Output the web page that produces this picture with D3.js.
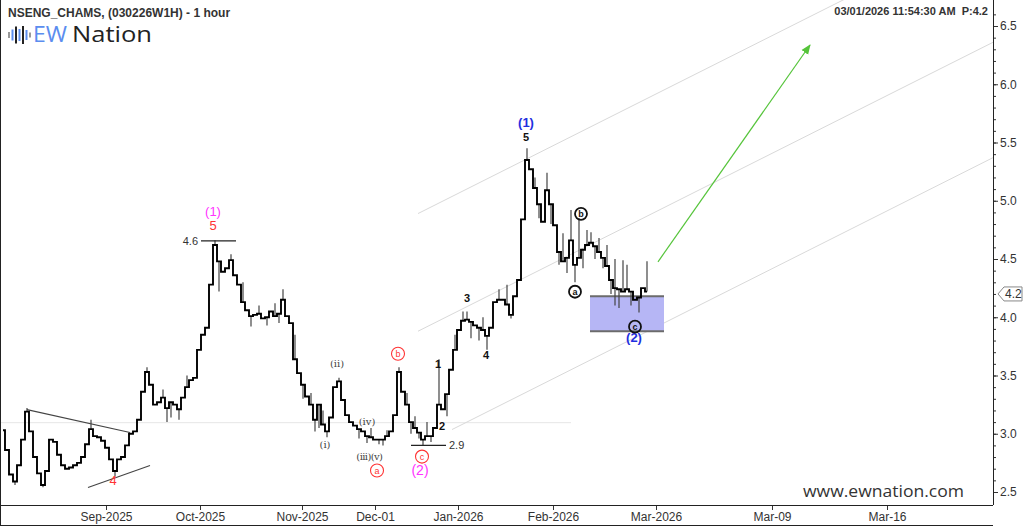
<!DOCTYPE html>
<html><head><meta charset="utf-8">
<script src="https://cdn.jsdelivr.net/npm/d3@7"></script>
<style>body{margin:0;background:#fff}svg{display:block;font-family:"Liberation Sans",Arial,sans-serif}</style>
</head><body><svg id="c" width="1024" height="526"></svg>
<script>
// ---- data (price per sample, hourly chart resampled) ----
const closes = [
3.03,2.86,2.65,2.59,2.73,2.95,3.19,3.02,2.80,2.66,2.56,2.68,2.95,2.93,2.82,2.73,2.70,2.71,2.73,2.75,
2.80,2.91,3.04,2.98,2.97,2.94,2.88,2.78,2.68,2.78,2.80,2.90,3.00,3.02,3.12,3.36,3.53,3.42,3.25,3.27,
3.31,3.22,3.27,3.25,3.21,3.31,3.40,3.46,3.48,3.72,3.85,3.91,4.28,4.62,4.48,4.39,4.42,4.49,4.36,4.28,
4.13,4.06,4.01,4.02,4.03,3.99,4.00,4.05,4.01,4.03,4.15,4.01,3.95,3.64,3.52,3.42,3.32,3.25,3.12,3.25,
3.08,3.02,3.14,3.40,3.45,3.29,3.16,3.10,3.07,3.04,3.02,2.98,2.97,2.95,2.95,2.95,2.98,3.02,3.16,3.53,
3.36,3.25,3.10,3.05,3.01,2.95,2.98,2.98,3.05,3.25,3.21,3.34,3.55,3.72,3.89,3.97,3.98,3.96,3.93,3.91,
3.89,3.84,3.91,4.13,4.15,4.15,4.11,4.02,4.18,4.32,4.84,5.35,5.27,5.11,4.97,4.82,5.09,4.97,4.79,4.56,
4.48,4.51,4.66,4.45,4.51,4.58,4.62,4.64,4.61,4.56,4.51,4.44,4.32,4.25,4.24,4.22,4.24,4.22,4.15,4.17,
4.25,4.22];
const spikeHighs = [[6,3.22],[22,3.12],[36,3.57],[40,3.38],[46,3.50],[53,4.66],[57,4.54],[60,4.30],[64,4.10],
  [68,4.12],[70,4.24],[73,3.85],[77,3.35],[80,3.20],[84,3.48],[92,3.05],[96,3.03],[99,3.57],[101,3.35],[103,3.15],
  [106,3.10],[109,3.64],[113,3.85],[115,4.05],[116,4.05],[120,4.00],[124,4.24],[126,4.28],[131,5.45],[133,5.20],
  [136,5.24],[140,4.72],[142,4.92],[144,4.85],[146,4.75],[147,4.73],[149,4.68],[151,4.62],[153,4.50],[155,4.49],
  [156,4.45],[161,4.48]];
const spikeLows = [[3,2.56],[10,2.54],[28,2.63],[41,3.10],[42,3.14],[44,3.12],[54,4.22],[62,3.92],[66,3.93],
  [69,3.95],[75,3.30],[78,3.02],[79,3.05],[81,2.97],[89,2.96],[91,2.92],[94,2.91],[95,2.90],[102,3.00],[104,2.96],
  [105,2.90],[107,2.93],[111,3.15],[117,3.82],[119,3.80],[121,3.72],[127,3.99],[134,4.85],[137,4.80],[139,4.45],
  [141,4.38],[143,4.30],[145,4.42],[148,4.50],[150,4.42],[152,4.20],[153,4.10],[154,4.08],[157,4.10],[159,4.04]];
const xTickLabels = ["Sep-2025","Oct-2025","Nov-2025","Dec-01","Jan-2026","Feb-2026","Mar-2026","Mar-09","Mar-16"];
const xTickIndex  = [25.75,49.25,74.75,93,113.75,137.5,163.25,192.25,221];
const yTicks = [2.5,3.0,3.5,4.0,4.5,5.0,5.5,6.0,6.5];
const lastPrice = 4.2;
const peakLevel = [49.5,58.25,4.655,"4.6"];
const lowLevel = [102,110.75,2.90,"2.9"];
const channelTop = [[103.75,4.89],[247.5,7.37]];
const channelMid = [[103.75,3.88],[247.5,6.36]];
const channelBot = [[112.25,3.036],[247.5,5.37]];
const trend1 = [[6,3.207],[31.75,3.01]];
const trend2 = [[21.25,2.538],[36.75,2.727]];
const hLine = [[-2,3.095],[142,3.095]];
const arrow = [[163.75,4.476],[201.75,6.337]];
const targetBox = [146.75,165.25,4.18,3.88];
// labels: [index, price, text, kind]
const labels = [
 [52.5,4.91,"(1)","mag"],[52.5,4.79,"5","red"],[27.5,2.60,"4","red"],
 [80.5,2.907,"(i)","rom"],[83.5,3.60,"(ii)","rom"],[91,3.104,"(iv)","rom"],[91.6,2.804,"(iii)(v)","rom"],
 [104.25,2.69,"(2)","mag2"],
 [108.75,3.60,"1","num"],[109.75,3.07,"2","num"],[116,4.167,"3","num"],[120.75,3.679,"4","num"],[130.75,5.548,"5","num"],
 [130.75,5.677,"(1)","blue"],[157.75,3.824,"(2)","blue"]
];
const circled = [
 [93.5,2.684,"a","red"],[98.75,3.687,"b","red"],[104.75,2.804,"c","red"],
 [144.5,4.888,"b","blk"],[143,4.219,"a","blk"],[158,3.919,"c","blk"]
];

// ---- layout ----
const R = 993, B = 505;
const svg = d3.select("#c");
const x = d3.scaleLinear().domain([0,161]).range([3,647]);
const y = d3.scaleLinear().domain([2.5,6.5]).range([492,26]);

const defs = svg.append("defs");
defs.append("clipPath").attr("id","clip").append("rect")
  .attr("x",0).attr("y",0).attr("width",R).attr("height",B);
defs.append("marker").attr("id","ah").attr("viewBox","0 0 10 10").attr("refX",9).attr("refY",5)
  .attr("markerWidth",10).attr("markerHeight",10).attr("markerUnits","userSpaceOnUse").attr("orient","auto")
  .append("path").attr("d","M0,1 L10,5 L0,9 Z").attr("fill","#55c43a");

const g = svg.append("g").attr("clip-path","url(#clip)");
const seg = (pts, color, w) => g.append("line")
  .attr("x1",x(pts[0][0])).attr("y1",y(pts[0][1])).attr("x2",x(pts[1][0])).attr("y2",y(pts[1][1]))
  .attr("stroke",color).attr("stroke-width",w);

seg(hLine,"#e6e6e6",1);
seg(channelTop,"#d9d9d9",1);
seg(channelMid,"#d9d9d9",1);
seg(channelBot,"#d9d9d9",1);

// target box
g.append("rect").attr("x",x(targetBox[0])).attr("y",y(targetBox[2]))
  .attr("width",x(targetBox[1])-x(targetBox[0])).attr("height",y(targetBox[3])-y(targetBox[2]))
  .attr("fill","#b6b6f5");
[targetBox[2],targetBox[3]].forEach(p=>g.append("line").attr("x1",x(targetBox[0])).attr("x2",x(targetBox[1]))
  .attr("y1",y(p)).attr("y2",y(p)).attr("stroke","#6b6b6b").attr("stroke-width",2));

seg(trend1,"#444",1.1);
seg(trend2,"#444",1.1);

// wicks
const wick = (arr)=>g.selectAll(null).data(arr).enter().append("line")
  .attr("x1",d=>x(d[0])).attr("x2",d=>x(d[0]))
  .attr("y1",d=>y(closes[d[0]])).attr("y2",d=>y(d[1]))
  .attr("stroke","#444").attr("stroke-width",1.2);
wick(spikeHighs); wick(spikeLows);

// price
g.append("path").datum(closes)
  .attr("d",d3.line().curve(d3.curveStep).x((d,i)=>x(i)).y(d=>y(d)))
  .attr("fill","none").attr("stroke","#000").attr("stroke-width",1.9).attr("stroke-linejoin","miter");

// level lines
[[peakLevel,"end",-3],[lowLevel,"start",3]].forEach(([L,anc,dx])=>{
  g.append("line").attr("x1",x(L[0])).attr("x2",x(L[1])).attr("y1",y(L[2])).attr("y2",y(L[2]))
    .attr("stroke","#222").attr("stroke-width",1.2);
  g.append("text").attr("x",anc==="end"?x(L[0])+dx:x(L[1])+dx).attr("y",y(L[2])).attr("dy","0.35em")
    .attr("text-anchor",anc).attr("font-size",11).attr("fill","#333").text(L[3]);
});

// arrow
g.append("line").attr("x1",x(arrow[0][0])).attr("y1",y(arrow[0][1])).attr("x2",x(arrow[1][0])).attr("y2",y(arrow[1][1]))
  .attr("stroke","#55c43a").attr("stroke-width",1.2).attr("marker-end","url(#ah)");

// labels
const style = {
  mag:{c:"#ff33ff",s:13,w:"normal",f:null},
  mag2:{c:"#ff33ff",s:14,w:"normal",f:null},
  red:{c:"#ff3333",s:13,w:"normal",f:null},
  rom:{c:"#444",s:10,w:"normal",f:"'DejaVu Serif','Liberation Serif',serif"},
  num:{c:"#111",s:11,w:"bold",f:null},
  blue:{c:"#1f2fe0",s:13,w:"bold",f:null}
};
labels.forEach(([i,p,t,k])=>{
  const st=style[k];
  const tx=g.append("text").attr("x",x(i)).attr("y",y(p)).attr("dy","0.36em").attr("text-anchor","middle")
    .attr("font-size",st.s).attr("font-weight",st.w).attr("fill",st.c).text(t);
  if(st.f) tx.attr("font-family",st.f).attr("letter-spacing",t.length>5?-0.6:0);
});
circled.forEach(([i,p,t,k])=>{
  const c = k==="red"?"#ff3333":"#111";
  g.append("circle").attr("cx",x(i)).attr("cy",y(p)).attr("r",k==="red"?6.5:6)
    .attr("fill","#fff").attr("fill-opacity",k==="red"?1:0).attr("stroke",c).attr("stroke-width",k==="red"?1.1:1.8);
  g.append("text").attr("x",x(i)).attr("y",y(p)).attr("dy","0.33em").attr("text-anchor","middle")
    .attr("font-size",9).attr("font-weight",k==="red"?"normal":"bold").attr("fill",c).text(t);
});

// ---- axes ----
const ya = svg.append("g").attr("transform",`translate(${R},0)`);
ya.call(d3.axisRight(y).tickValues(d3.range(25,67).map(v=>v/10)).tickSize(3).tickFormat(""));
ya.call(g2=>g2.select(".domain").remove());
const yb = svg.append("g").attr("transform",`translate(${R},0)`)
  .call(d3.axisRight(y).tickValues(yTicks).tickSize(5).tickPadding(2).tickFormat(d3.format(".1f")));
yb.select(".domain").remove();
yb.selectAll("text").attr("font-size",12).attr("fill","#333").attr("font-family","'Liberation Sans',Arial,sans-serif");
svg.selectAll(".tick line").attr("stroke","#333");

const xa = svg.append("g").attr("transform",`translate(0,${B})`)
  .call(d3.axisBottom(x).tickValues(xTickIndex).tickSize(5).tickPadding(2).tickFormat((d,i)=>xTickLabels[i]));
xa.select(".domain").remove();
xa.selectAll("text").attr("font-size",12).attr("fill","#333").attr("font-family","'Liberation Sans',Arial,sans-serif");
xa.selectAll("line").attr("stroke","#333");

svg.append("line").attr("x1",R+0.5).attr("x2",R+0.5).attr("y1",0).attr("y2",B).attr("stroke","#222");
svg.append("line").attr("x1",0).attr("x2",R).attr("y1",B+0.5).attr("y2",B+0.5).attr("stroke","#222");
svg.append("line").attr("x1",0.5).attr("x2",0.5).attr("y1",0).attr("y2",526).attr("stroke","#222");
svg.append("line").attr("x1",0).attr("x2",R).attr("y1",525.5).attr("y2",525.5).attr("stroke","#222");

// last price tag
const py = y(lastPrice);
svg.append("path").attr("d",`M${R+5},${py} L${R+11},${py-7} L${R+29},${py-7} L${R+29},${py+7} L${R+11},${py+7} Z`)
  .attr("fill","#fff").attr("stroke","#888");
svg.append("text").attr("x",R+12).attr("y",py).attr("dy","0.36em").attr("font-size",12).attr("fill","#333").text(d3.format(".1f")(lastPrice));

// ---- texts ----
svg.append("text").attr("x",8).attr("y",17).attr("font-size",12).attr("font-weight","bold").attr("fill","#333")
  .text("NSENG_CHAMS, (030226W1H) - 1 hour");
svg.append("text").attr("x",988).attr("y",15).attr("text-anchor","end").attr("font-size",11).attr("font-weight","bold").attr("fill","#333")
  .text("03/01/2026 11:54:30 AM  P:4.2").attr("xml:space","preserve");
// logo
const logoBars = [[8,6,"#999"],[11.5,11,"#5b8def"],[15,17,"#222"],[18.5,12,"#5b8def"],[22,18,"#222"],[25.5,10,"#5b8def"],[29,5,"#999"]];
svg.selectAll(".lb").data(logoBars).enter().append("rect").attr("x",d=>d[0]).attr("y",d=>35-d[1]/2)
  .attr("width",2).attr("height",d=>d[1]).attr("fill",d=>d[2]);
svg.append("text").attr("x",33).attr("y",42).attr("font-size",21).attr("font-family","'Open Sans',sans-serif")
  .attr("fill","#5b8def").attr("textLength",34).attr("lengthAdjust","spacingAndGlyphs").text("EW");
svg.append("text").attr("x",72).attr("y",42).attr("font-size",21).attr("font-family","'Open Sans',sans-serif")
  .attr("fill","#222").attr("textLength",80).attr("lengthAdjust","spacingAndGlyphs").text("Nation");
svg.append("text").attr("x",803).attr("y",497).attr("font-size",17).attr("font-family","'Open Sans',sans-serif")
  .attr("fill","#333").attr("textLength",161).attr("lengthAdjust","spacingAndGlyphs").text("www.ewnation.com");
</script></body></html>
